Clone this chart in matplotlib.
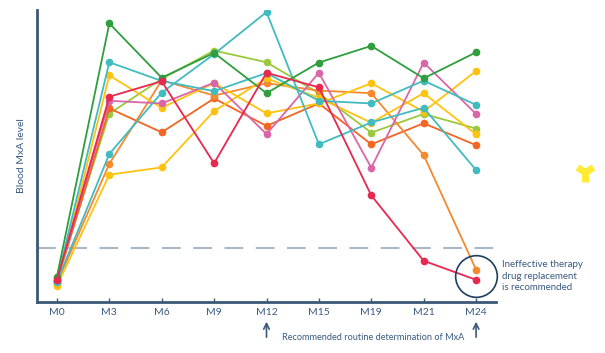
import matplotlib
matplotlib.use("Agg")
import matplotlib.pyplot as plt
from matplotlib.lines import Line2D

plt.rcParams['font.family'] = ['Lato', 'DejaVu Sans']

months = ["M0", "M3", "M6", "M9", "M12", "M15", "M19", "M21", "M24"]

# blood MxA level per patient (arbitrary units)
green = [8.7, 95.4, 76.8, 85.3, 71.5, 82.0, 87.7, 76.6, 85.5]
teal_a = [7.2, 82.1, 75.7, 72.2, 78.4, 68.9, 68.0, 75.8, 67.5]
teal_b = [6.8, 50.7, 71.7, 84.9, 99.3, 54.0, 61.5, 66.5, 45.2]
yellow_a = [5.8, 77.6, 66.5, 75.0, 64.6, 68.0, 74.9, 65.2, 79.1]
yellow_b = [5.5, 43.6, 46.1, 65.4, 76.6, 69.9, 61.4, 71.5, 57.4]
red = [7.5, 70.3, 75.6, 47.5, 78.5, 73.5, 36.5, 14.1, 7.6]
pink = [7.4, 68.9, 68.0, 75.1, 57.5, 78.5, 46.0, 82.0, 64.4]
dark_orange = [6.8, 66.3, 58.1, 69.7, 60.3, 68.0, 54.0, 61.2, 53.7]
light_orange = [6.5, 47.3, 75.9, 70.7, 74.9, 72.4, 71.5, 50.3, 11.1]
lime = [7.9, 64.5, 76.4, 86.1, 82.1, 71.5, 58.0, 64.4, 59.4]

threshold = 18.5

series = [
    (lime, "#9BC93B"),
    (dark_orange, "#F26522"),
    (light_orange, "#F5892F"),
    (yellow_b, "#FFC20E"),
    (yellow_a, "#FFC20E"),
    (pink, "#D966A8"),
    (teal_a, "#40BCC0"),
    (teal_b, "#40BCC0"),
    (green, "#2E9E3E"),
    (red, "#E8284F"),
]

axis_col = "#3B5878"
text_col = "#3A5A80"

fig = plt.figure(figsize=(6.05, 3.53), dpi=100)
ax = fig.add_axes([0.0612, 0.1445, 0.7586, 0.8272])

x = list(range(len(months)))
for vals, col in series:
    ax.plot(x, vals, color=col, lw=1.3, marker="o", ms=4.5, zorder=3)

ax.axhline(threshold, color="#A9B8C8", lw=1.5, dashes=(9, 6), zorder=1)

ax.set_xlim(-0.38, 8.38)
ax.set_ylim(0, 100)
ax.set_xticks(x)
ax.set_xticklabels(months)
ax.set_yticks([])
ax.tick_params(axis="x", direction="in", length=3, width=1, colors=axis_col,
               labelcolor=text_col, labelsize=7.5, pad=4)
for s in ["top", "right"]:
    ax.spines[s].set_visible(False)
for s in ["left", "bottom"]:
    ax.spines[s].set_color(axis_col)
    ax.spines[s].set_linewidth(2)
ax.set_ylabel("Blood MxA level", color=text_col, fontsize=7.5, labelpad=8)

# circle round the failing patients at M24
ax.plot([8], [9.0], marker="o", ms=30, mfc="none", mec="#1F3F60", mew=1.2,
        clip_on=False, zorder=4)
ax.text(8.5, 8.9, "Ineffective therapy\ndrug replacement\nis recommended",
        color=text_col, fontsize=7, va="center", ha="left", linespacing=1.3)

# arrows under M12 and M24
for xi in [4, 8]:
    ax.annotate("", xy=(xi, -5.8), xytext=(xi, -13.0),
                xycoords="data", textcoords="data",
                arrowprops=dict(arrowstyle="->", color=axis_col, lw=1.2,
                                mutation_scale=10),
                annotation_clip=False)
ax.text(4.3, -12.0, "Recommended routine determination of MxA",
        color=text_col, fontsize=6.6, va="center", ha="left")

# yellow highlighter mark on the right
fig.add_artist(Line2D([585 / 605], [1 - 172 / 353], marker="1", ms=14, mew=5,
                      color="#FFE600", alpha=0.8, transform=fig.transFigure))

fig.savefig("out.png", dpi=100)
